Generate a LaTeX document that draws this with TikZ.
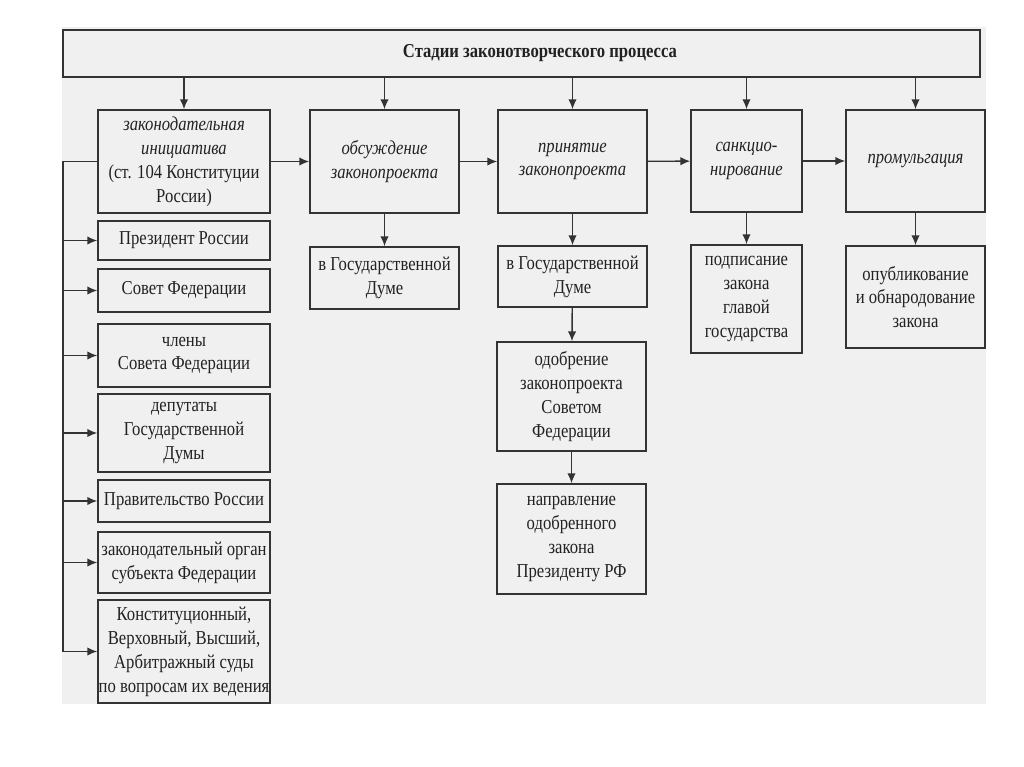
\documentclass[tikz,border=0pt]{standalone}
\usepackage{fontspec}
\setmainfont{Liberation Serif}[FakeStretch=0.845]
\usepackage{tikz}
\usetikzlibrary{arrows.meta}
\definecolor{bggray}{HTML}{F0F0F0}
\definecolor{boxline}{HTML}{333333}
\definecolor{ink}{HTML}{222222}

\begin{document}
\begin{tikzpicture}[x=0.025cm,y=-0.025cm,
    box/.style={draw=boxline,fill=bggray,line width=1.1pt,align=center,
      inner sep=1pt,text=ink,font=\fontsize{14}{17}\selectfont},
    stage/.style={box,minimum height=2.575cm,
      font=\fontsize{14}{17}\selectfont\itshape},
    side/.style={box,minimum width=4.3cm},
    arr/.style={draw=boxline,line width=1pt,-{Latex[length=7pt,width=6pt]}}]
    \useasboundingbox (0,0) rectangle (1024,767);
    \fill[bggray] (62,27) rectangle (986,704);

    \node[box,minimum width=22.925cm,minimum height=1.175cm] (title) at (521.5,53.5) {};
    \node[text=ink,font=\fontsize{14}{17}\selectfont\bfseries] (titletext) at (540,53) {Стадии законотворческого процесса};

    \node[stage,minimum width=4.3cm] (ini) at (184,161.5) {законодательная\\инициатива\\\upshape(ст. 104 Конституции\\\upshape России)};
    \node[stage,minimum width=3.725cm] (obs) at (384.5,161.5) {обсуждение\\законопроекта};
    \node[stage,minimum width=3.725cm] (prin) at (572.5,161.5) {принятие\\законопроекта};
    \node[stage,minimum width=2.775cm,minimum height=2.55cm] (sank) at (746.5,161) {санкцио-\\нирование};
    \node[stage,minimum width=3.475cm,minimum height=2.55cm] (prom) at (915.5,161) {промульгация};

    \node[box,minimum width=3.725cm,minimum height=1.55cm] (dumaobs) at (384.5,278) {в Государственной\\Думе};
    \node[box,minimum width=3.725cm,minimum height=1.525cm] (dumaprin) at (572.5,276.5) {в Государственной\\Думе};
    \node[box,minimum width=3.725cm,minimum height=2.725cm] (odobr) at (571.5,396.5) {одобрение\\законопроекта\\Советом\\Федерации};
    \node[box,minimum width=3.725cm,minimum height=2.75cm] (napr) at (571.5,539) {направление\\одобренного\\закона\\Президенту РФ};
    \node[box,minimum width=2.775cm,minimum height=2.7cm] (podp) at (746.5,299) {подписание\\закона\\главой\\государства};
    \node[box,minimum width=3.475cm,minimum height=2.55cm] (opubl) at (915.5,297) {опубликование\\и обнародование\\закона};

    \node[side,minimum height=0.975cm] (prez) at (184,240.5) {Президент России};
    \node[side,minimum height=1.075cm] (sovet) at (184,290.5) {Совет Федерации};
    \node[side,minimum height=1.575cm] (chleny) at (184,355.5) {члены\\Совета Федерации};
    \node[side,minimum height=1.95cm] (deput) at (184,433) {депутаты\\Государственной\\Думы};
    \node[side,minimum height=1.05cm] (prav) at (184,501) {Правительство России};
    \node[side,minimum height=1.525cm] (organ) at (184,562.5) {законодательный орган\\субъекта Федерации};
    \node[side,minimum height=2.575cm,inner sep=0pt] (sudy) at (184,651.5) {Конституционный,\\Верховный, Высший,\\Арбитражный суды\\по вопросам их ведения};

    \foreach \n in {ini,obs,prin,sank,prom}
      \draw[arr] (title.south -| \n.north) -- (\n.north);
    \draw[arr] (ini) -- (obs);
    \draw[arr] (obs) -- (prin);
    \draw[arr] (prin) -- (sank);
    \draw[arr] (sank) -- (prom);
    \draw[arr] (obs) -- (dumaobs);
    \draw[arr] (prin) -- (dumaprin);
    \draw[arr] (dumaprin) -- (odobr);
    \draw[arr] (odobr) -- (napr);
    \draw[arr] (sank) -- (podp);
    \draw[arr] (prom) -- (opubl);

    \coordinate (trunk) at (63,0);
    \draw[draw=boxline,line width=1pt] (ini.west) -- (ini.west -| trunk) -- (sudy.west -| trunk);
    \foreach \n in {prez,sovet,chleny,deput,prav,organ,sudy}
      \draw[arr] (\n.west -| trunk) -- (\n.west);
\end{tikzpicture}
\end{document}
